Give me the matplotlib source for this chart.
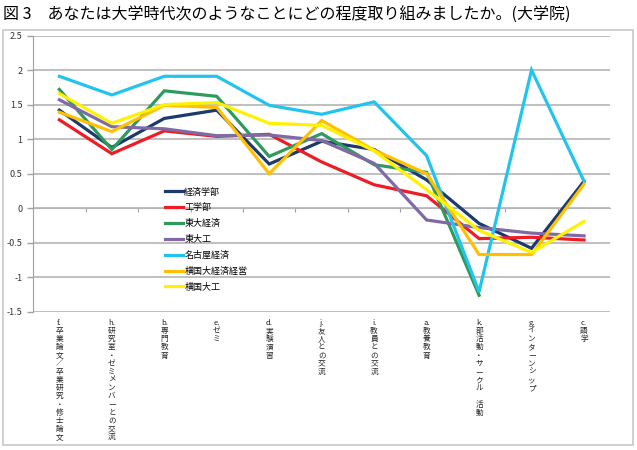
import numpy as np
import matplotlib
matplotlib.use("Agg")
import matplotlib.pyplot as plt
from matplotlib.patches import Rectangle

plt.rcParams['font.family'] = ['Noto Sans CJK JP', 'DejaVu Sans']

TITLE = "図 3　あなたは大学時代次のようなことにどの程度取り組みましたか。(大学院)"

categories = ["f.", "h.", "b.", "e.", "d.", "j.", "i.", "a.", "k.", "g.", "c."]
category_names = ["卒業論文／卒業研究・修士論文", "研究室・ゼミメンバーとの交流", "専門教育",
                  "ゼミ", "実験演習", "友人との交流", "教員との交流", "教養教育",
                  "部活動・サークル 活動", "インターンシップ", "語学"]

series_names = ["経済学部", "工学部", "東大経済", "東大工", "名古屋経済", "横国大経済経営", "横国大工"]
keizai = [1.42, 0.88, 1.30, 1.42, 0.64, 0.97, 0.85, 0.41, -0.22, -0.58, 0.39]
kogaku = [1.28, 0.79, 1.12, 1.04, 1.07, 0.67, 0.34, 0.18, -0.44, -0.42, -0.46]
todai_keizai = [1.72, 0.85, 1.70, 1.62, 0.75, 1.08, 0.63, 0.52, -1.26, np.nan, np.nan]
todai_ko = [1.57, 1.18, 1.15, 1.05, 1.06, 0.98, 0.65, -0.17, -0.28, -0.36, -0.40]
nagoya_keizai = [1.91, 1.64, 1.91, 1.91, 1.49, 1.36, 1.54, 0.76, -1.21, 2.00, 0.39]
yokokoku_keizai = [1.39, 1.11, 1.49, 1.46, 0.50, 1.27, 0.84, 0.50, -0.67, -0.67, 0.35]
yokokoku_ko = [1.66, 1.23, 1.50, 1.53, 1.23, 1.20, 0.83, 0.27, -0.32, -0.64, -0.19]

colors = ["#1c3a6e", "#ee1c24", "#2e9a5e", "#7f6aa6", "#22c4ee", "#ffc000", "#fff200"]

y_ticks = [-1.5, -1, -0.5, 0, 0.5, 1, 1.5, 2, 2.5]


def main():
    fig = plt.figure(figsize=(6.37, 4.5), dpi=100)
    ax = fig.add_axes([0.052, 0.307, 0.906, 0.614])

    data = [keizai, kogaku, todai_keizai, todai_ko, nagoya_keizai, yokokoku_keizai, yokokoku_ko]
    x = np.arange(len(categories))
    for name, vals, c in zip(series_names, data, colors):
        ax.plot(x, vals, color=c, lw=2.3, label=name, solid_joinstyle="miter")

    ax.set_xlim(-0.5, len(categories) - 0.5)
    ax.set_ylim(-1.5, 2.5)
    ax.set_yticks(y_ticks)
    ax.set_yticklabels([f"{v:g}" for v in y_ticks], fontsize=6.5, color="#333333")
    ax.yaxis.grid(True, color="#b4b4b4", lw=1.2)
    ax.set_axisbelow(True)
    ax.tick_params(axis="y", length=4, color="#a0a0a0", width=1)
    for s in ["top", "right", "bottom"]:
        ax.spines[s].set_visible(False)
    ax.spines["left"].set_color("#a0a0a0")

    labels = ["\n".join([c] + list(n)) for c, n in zip(categories, category_names)]
    ax.set_xticks(x)
    ax.set_xticklabels(labels, fontsize=5.5, va="top", linespacing=1.03, color="#222222")
    ax.tick_params(axis="x", length=0, pad=5)

    # category axis crossing at y=0 with small ticks between categories
    sec = ax.secondary_xaxis(1.5 / 4.0)
    sec.set_xticks(x[:-1] + 0.5)
    sec.set_xticklabels([])
    sec.tick_params(length=3, color="#a0a0a0", direction="out")
    sec.spines["bottom"].set_color("#b4b4b4")

    ax.legend(loc="upper left", bbox_to_anchor=(0.215, 0.48), frameon=False,
              fontsize=6.5, handlelength=2.0, handletextpad=0.1, labelspacing=0.75)

    fig.text(0.004, 0.985, TITLE, fontsize=11.5, va="top", ha="left")
    fig.patches.append(Rectangle((0.005, 0.011), 0.989, 0.922, transform=fig.transFigure,
                                 fill=False, ec="#c8c8c8", lw=1.2))

    fig.savefig("out.png", dpi=100)


if __name__ == "__main__":
    main()
